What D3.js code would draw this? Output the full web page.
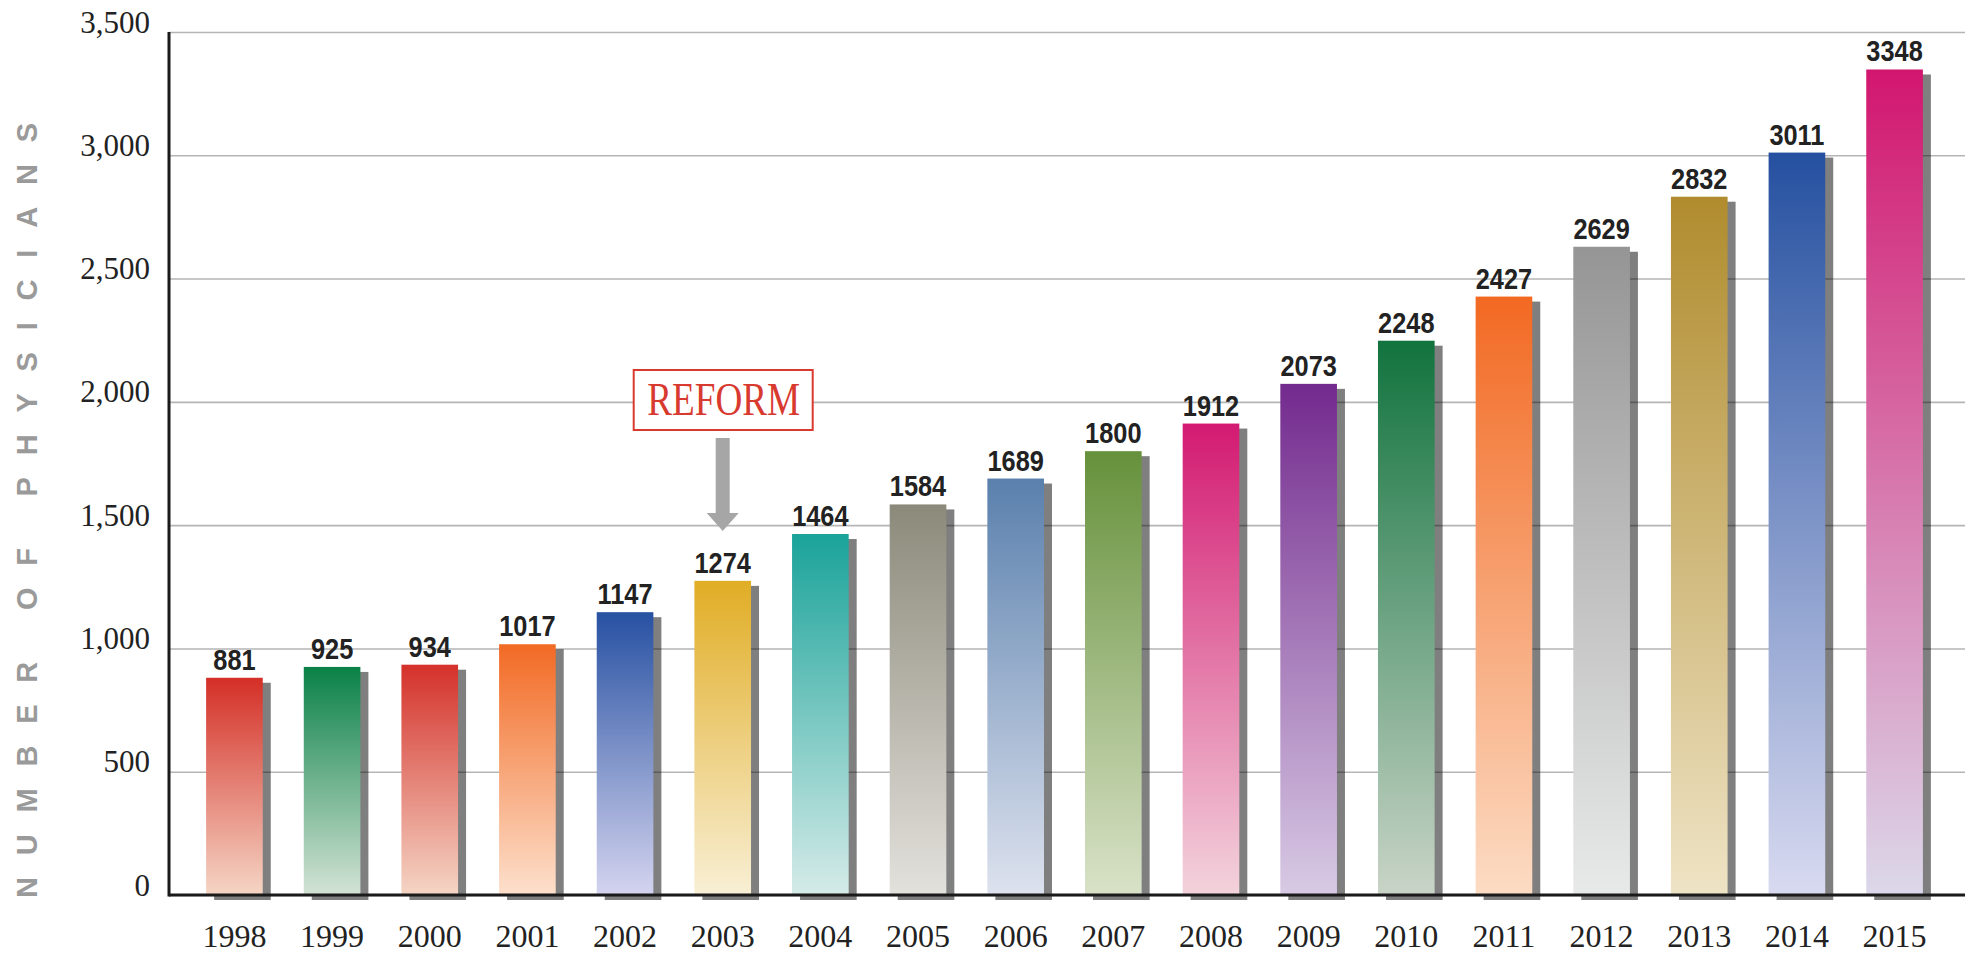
<!DOCTYPE html>
<html>
<head>
<meta charset="utf-8">
<script src="https://cdn.jsdelivr.net/npm/d3@7"></script>
<style>
  html, body { margin: 0; padding: 0; background: #fff; }
  svg { display: block; }
</style>
</head>
<body>
<svg id="chart" width="1975" height="954"></svg>
<script>
const years = ["1998","1999","2000","2001","2002","2003","2004","2005","2006","2007","2008","2009","2010","2011","2012","2013","2014","2015"];
const physicians = [881, 925, 934, 1017, 1147, 1274, 1464, 1584, 1689, 1800, 1912, 2073, 2248, 2427, 2629, 2832, 3011, 3348];
const topColors = ["#d42f26","#0a8147","#d4312a","#f26a24","#2751a2","#e1ad25","#1aa39a","#8b8a7a","#5a80ad","#66913b","#d31a72","#732a8e","#11733e","#f26922","#969595","#b08c2e","#2550a0","#d2166f"];
const bottomColors = ["#f5d5c5","#d3e3d5","#f5d5c5","#fde0cc","#d4d4ef","#f8efd5","#d5ebe8","#e3e1dc","#dde2ee","#d9e2c8","#f3d3dc","#d8cae4","#c9d4c7","#fcdcc4","#e8e9e9","#eee3c5","#d8daf0","#dcd8ea"];
const yTicks = [0, 500, 1000, 1500, 2000, 2500, 3000, 3500];
const yTitle = "NUMBER OF PHYSICIANS";
const annotationYear = "2003";
const annotationText = "REFORM";

const svg = d3.select("#chart");
const plotLeft = 169, plotRight = 1965, plotTop = 32, plotBottom = 895;

const x = d3.scaleBand().domain(years).range([plotLeft, 1960]).paddingInner(0.42).paddingOuter(0.38);
const y = d3.scaleLinear().domain([0, 3500]).range([plotBottom, plotTop]);
const bw = x.bandwidth();

// gradients
const defs = svg.append("defs");
years.forEach((yr, i) => {
  const g = defs.append("linearGradient").attr("id", "g" + i)
    .attr("x1", 0).attr("y1", 0).attr("x2", 0).attr("y2", 1);
  g.append("stop").attr("offset", "0%").attr("stop-color", topColors[i]);
  g.append("stop").attr("offset", "100%").attr("stop-color", bottomColors[i]);
});

// gridlines + y tick labels
const yAxis = svg.append("g").attr("transform", `translate(${plotLeft},0)`)
  .call(d3.axisLeft(y).tickValues(yTicks).tickSize(-(plotRight - plotLeft)).tickFormat(d3.format(",")).tickPadding(19));
yAxis.select(".domain").remove();
yAxis.selectAll(".tick line").attr("stroke", "#b5b5b5").attr("stroke-width", 1.6);
yAxis.selectAll(".tick text")
  .attr("dy", "0")
  .attr("fill", "#222")
  .style("font-family", "'Liberation Serif', 'DejaVu Serif', serif")
  .style("font-size", "31px");

// shadows
svg.append("g").selectAll("rect").data(physicians).join("rect")
  .attr("x", (d, i) => x(years[i]) + 8)
  .attr("y", d => y(d) + 5)
  .attr("width", bw)
  .attr("height", d => plotBottom - y(d))
  .attr("fill", "#000").attr("fill-opacity", 0.5);

// bars
svg.append("g").selectAll("rect").data(physicians).join("rect")
  .attr("x", (d, i) => x(years[i]))
  .attr("y", d => y(d))
  .attr("width", bw)
  .attr("height", d => plotBottom - y(d))
  .attr("fill", (d, i) => `url(#g${i})`);

// value labels
svg.append("g").selectAll("text").data(physicians).join("text")
  .attr("transform", (d, i) => `translate(${x(years[i]) + bw / 2},${y(d) - 8}) scale(0.86,1)`)
  .attr("text-anchor", "middle")
  .attr("fill", "#222")
  .style("font-family", "'Liberation Sans', Arial, sans-serif")
  .style("font-weight", "bold")
  .style("font-size", "29.5px")
  .text(d => d);

// axes lines
svg.append("line").attr("x1", plotLeft).attr("x2", plotRight).attr("y1", plotBottom).attr("y2", plotBottom)
  .attr("stroke", "#1a1a1a").attr("stroke-width", 3);
svg.append("line").attr("x1", plotLeft).attr("x2", plotLeft).attr("y1", plotTop).attr("y2", plotBottom + 1.5)
  .attr("stroke", "#1a1a1a").attr("stroke-width", 3);

// x tick labels
const xAxis = svg.append("g").attr("transform", `translate(0,${plotBottom})`)
  .call(d3.axisBottom(x).tickSize(0).tickPadding(52));
xAxis.select(".domain").remove();
xAxis.selectAll(".tick text")
  .attr("dy", "0")
  .attr("fill", "#222")
  .style("font-family", "'Liberation Serif', 'DejaVu Serif', serif")
  .style("font-size", "32px");

// y title
svg.append("text")
  .attr("transform", `translate(37,${plotBottom + 3}) rotate(-90)`)
  .attr("text-anchor", "start")
  .attr("fill", "#9a9a9a")
  .attr("textLength", 775)
  .attr("lengthAdjust", "spacing")
  .style("font-family", "'Liberation Sans', Arial, sans-serif")
  .style("font-weight", "bold")
  .style("font-size", "29px")
  .text(yTitle);

// annotation
const ax = x(annotationYear) + bw / 2;
const ann = svg.append("g");
ann.append("rect").attr("x", ax - 89).attr("y", 370).attr("width", 179).attr("height", 60)
  .attr("fill", "#fff").attr("stroke", "#d93a30").attr("stroke-width", 2);
ann.append("text").attr("x", ax + 1).attr("y", 415)
  .attr("text-anchor", "middle").attr("fill", "#d93a30")
  .attr("textLength", 153).attr("lengthAdjust", "spacingAndGlyphs")
  .style("font-family", "'Liberation Serif', 'DejaVu Serif', serif")
  .style("font-size", "46px")
  .text(annotationText);
ann.append("path")
  .attr("d", `M${ax - 7},438 L${ax + 7},438 L${ax + 7},513 L${ax + 16},513 L${ax},531 L${ax - 16},513 L${ax - 7},513 Z`)
  .attr("fill", "#a6a6a6");
</script>
</body>
</html>
